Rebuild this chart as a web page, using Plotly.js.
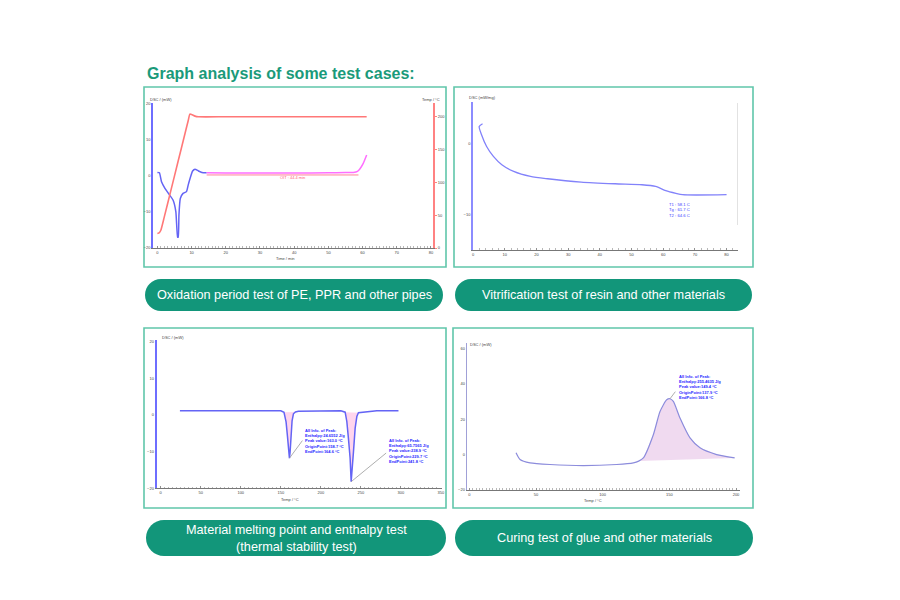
<!DOCTYPE html>
<html><head><meta charset="utf-8">
<script src="https://cdn.plot.ly/plotly-3.0.1.min.js"></script>
<style>html,body{margin:0;padding:0;background:#fff;}#chart{width:900px;height:600px;}</style>
</head><body><div id="chart"></div>
<script>
// ---------- Panel 1: oxidation induction time ----------
const oitTime = [0, 0.6, 1.2, 2.2, 3.6, 4.6, 5.4, 5.9, 6.1, 6.3, 6.7, 7.5, 8.5, 9.0, 9.7, 10.3, 11, 12, 13, 14.4];
const oitDsc  = [0.9, 0.8, -1.7, -3.5, -5.4, -6.8, -10, -17, -17, -10.9, -6.3, -4.9, -4.4, -2.6, -0.3, 1.3, 1.8, 1.3, 0.9, 0.8];
const oitHoldTime = [14.4, 20, 30, 40, 50, 55, 57.3, 58.5, 59.2, 60.2, 61.2];
const oitHoldDsc  = [0.8, 0.75, 0.72, 0.75, 0.8, 0.85, 0.9, 1.2, 1.85, 3.4, 5.7];
const tempTime = [0, 0.5, 1, 2, 4, 6, 8, 9, 9.5, 10, 11, 12, 20, 40, 61.2];
const tempVal  = [22, 23, 27, 47, 89, 131, 173, 194, 204, 203.5, 201, 200, 200, 200, 200];
const oitBaseTime = [14.4, 58.8];
const oitBaseDsc  = [0.2, 0.2];
const oitLabel = "OIT : 44.4 min";

// ---------- Panel 2: glass transition ----------
const tgTemp = [2.98, 1.92, 2.66, 4.26, 6.4, 9.06, 12.8, 18.1, 23.5, 34.1, 44.8, 53.3, 57.6, 60.8, 64, 66.1, 80];
const tgDsc  = [2.87, 2.49, 1.32, -0.34, -1.75, -2.93, -3.87, -4.58, -4.91, -5.38, -5.62, -5.76, -6.0, -6.6, -6.98, -7.17, -7.17];
const tgLabels = ["T1 : 58.1 C", "Tg : 61.7 C", "T2 : 64.6 C"];

// ---------- Panel 3: melting ----------
const meltTemp = [24, 60, 100, 140, 150, 154, 156.6, 158.3, 160, 160.8, 161.6, 162.9, 164.1, 165.8, 168.3, 172, 200, 225, 230.4, 232.5, 234.5, 236.6, 237.9, 239.1, 240.8, 242.9, 245, 247, 270, 297];
const meltDsc  = [1.1, 1.1, 1.1, 1.1, 1.1, 0.7, -1.9, -5.7, -10, -11.8, -10.2, -5.7, -1.6, 0.3, 0.8, 1.0, 1.1, 1.1, 0.74, -1.8, -6.4, -11.8, -18.2, -15.5, -10, -3.6, -0.45, 0.6, 1.1, 1.1];
const meltPeak1Text = ["All Info. of Peak:", "Enthalpy:24.6552 J/g", "Peak value:163.0 °C", "OriginPoint:158.7 °C", "EndPoint:164.6 °C"];
const meltPeak2Text = ["All Info. of Peak:", "Enthalpy:65.7565 J/g", "Peak value:238.9 °C", "OriginPoint:229.7 °C", "EndPoint:241.8 °C"];

// ---------- Panel 4: curing ----------
const cureTemp = [35, 38, 45.5, 60.5, 85.5, 110.5, 123, 127, 130.5, 138, 143, 148, 150.5, 153, 158, 165.5, 173, 185.5, 199];
const cureDsc  = [0.96, -2.8, -4.7, -5.6, -6.2, -5.6, -4.7, -3.7, -1.9, 11.2, 24.3, 30.9, 31.5, 30, 20.6, 9.4, 3.8, 0, -1.9];
const curePeakText = ["All Info. of Peak:", "Enthalpy:255.4635 J/g", "Peak value:149.4 °C", "OriginPoint:137.9 °C", "EndPoint:166.8 °C"];

// ---------- Texts ----------
const pageTitle = "Graph analysis of some test cases:";
const captions = ["Oxidation period test of PE, PPR and other pipes", "Vitrification test of resin and other materials",
  "Material melting point and enthalpy test<br>(thermal stability test)", "Curing test of glue and other materials"];

// helpers
const P = px => px / 900, Q = py => 1 - py / 600;
const TEAL = 'rgb(18,150,122)', BORDER = 'rgb(96,198,170)';
const BLUE = 'rgb(100,100,245)', RED = 'rgb(255,120,120)', MAG = 'rgb(255,110,255)';
const SANS = 'Liberation Sans, Arial, sans-serif';
const tf = {family: SANS, size: 4, color: '#444'};

function pick(xs, ys, lo, hi) {
  const x = [], y = [];
  xs.forEach((v, i) => { if (v >= lo && v <= hi) { x.push(v); y.push(ys[i]); } });
  return {x, y};
}
const pk1 = pick(meltTemp, meltDsc, 154, 168.3);
const pk2 = pick(meltTemp, meltDsc, 230.4, 247);
const cpk = pick(cureTemp, cureDsc, 127, 199);
const meltMin1 = {x: 160.8, y: Math.min(...pk1.y)};
const meltMin2 = {x: 237.9, y: Math.min(...pk2.y)};
const cureMax = {x: 150.5, y: Math.max(...cureDsc)};

const traces = [
  {x: tempTime, y: tempVal, xaxis: 'x', yaxis: 'y5', mode: 'lines', line: {color: RED, width: 1.6, shape: 'spline', smoothing: 0.5}},
  {x: oitTime, y: oitDsc, xaxis: 'x', yaxis: 'y', mode: 'lines', line: {color: BLUE, width: 1.5, shape: 'spline', smoothing: 0.4}},
  {x: oitHoldTime, y: oitHoldDsc, xaxis: 'x', yaxis: 'y', mode: 'lines', line: {color: MAG, width: 1.5, shape: 'spline', smoothing: 0.6}},
  {x: oitBaseTime, y: oitBaseDsc, xaxis: 'x', yaxis: 'y', mode: 'lines', line: {color: 'rgb(255,130,150)', width: 1}},

  {x: tgTemp, y: tgDsc, xaxis: 'x2', yaxis: 'y2', mode: 'lines', line: {color: 'rgb(130,130,250)', width: 1.3, shape: 'spline', smoothing: 0.7}},

  {x: pk1.x, y: pk1.y, xaxis: 'x3', yaxis: 'y3', mode: 'lines', fill: 'toself', fillcolor: 'rgba(255,185,225,0.6)', line: {width: 0}},
  {x: pk2.x, y: pk2.y, xaxis: 'x3', yaxis: 'y3', mode: 'lines', fill: 'toself', fillcolor: 'rgba(255,185,225,0.6)', line: {width: 0}},
  {x: meltTemp, y: meltDsc, xaxis: 'x3', yaxis: 'y3', mode: 'lines', line: {color: BLUE, width: 1.5}},

  {x: cpk.x, y: cpk.y, xaxis: 'x4', yaxis: 'y4', mode: 'lines', fill: 'toself', fillcolor: 'rgba(235,205,235,0.75)', line: {width: 0}},
  {x: cureTemp, y: cureDsc, xaxis: 'x4', yaxis: 'y4', mode: 'lines', line: {color: 'rgb(140,140,220)', width: 1.2, shape: 'spline', smoothing: 0.6}}
].map(t => Object.assign({showlegend: false, hoverinfo: 'skip'}, t));

function xax(d, r, dt, minor, anchor) {
  return {domain: d, range: r, anchor: anchor, showline: true, linecolor: '#777', linewidth: 1, ticks: 'inside', ticklen: 2.5,
    tickcolor: '#777', tickwidth: 0.8, dtick: dt, tick0: 0, minor: {dtick: minor, ticks: 'inside', ticklen: 1.6, tickcolor: '#888', tickwidth: 0.6},
    showgrid: false, zeroline: false, tickfont: tf, fixedrange: true};
}
function yax(d, r, dt, color, w, anchor) {
  return {domain: d, range: r, anchor: anchor, showline: true, linecolor: color, linewidth: w, ticks: '', dtick: dt, tick0: 0,
    showgrid: false, zeroline: false, tickfont: tf, fixedrange: true};
}

function pill(x0, y0, x1, y1) {
  const r = (y1 - y0) / 2, k = 0.5523 * r;
  const pt = (x, y) => P(x) + ',' + Q(y);
  return 'M' + pt(x0 + r, y0) + ' L' + pt(x1 - r, y0) +
    ' C' + pt(x1 - r + k, y0) + ' ' + pt(x1, y0 + r - k) + ' ' + pt(x1, y0 + r) +
    ' C' + pt(x1, y0 + r + k) + ' ' + pt(x1 - r + k, y1) + ' ' + pt(x1 - r, y1) +
    ' L' + pt(x0 + r, y1) +
    ' C' + pt(x0 + r - k, y1) + ' ' + pt(x0, y0 + r + k) + ' ' + pt(x0, y0 + r) +
    ' C' + pt(x0, y0 + r - k) + ' ' + pt(x0 + r - k, y0) + ' ' + pt(x0 + r, y0) + ' Z';
}
const boxes = [[144, 87, 446, 267], [454, 87, 753, 267], [144, 328, 446, 508], [453, 328, 753, 508]];
const pills = [[145, 279, 443, 311], [455, 279, 752, 311], [146, 520, 446, 556], [455, 520, 753, 556]];

const shapes = [];
boxes.forEach(b => shapes.push({type: 'rect', xref: 'paper', yref: 'paper', x0: P(b[0]), x1: P(b[2]), y0: Q(b[3]), y1: Q(b[1]),
  line: {color: BORDER, width: 1.6}, fillcolor: 'rgba(0,0,0,0)', layer: 'below'}));
pills.forEach(b => shapes.push({type: 'path', xref: 'paper', yref: 'paper', path: pill(b[0], b[1], b[2], b[3]),
  line: {width: 0}, fillcolor: TEAL}));
shapes.push({type: 'line', xref: 'paper', yref: 'paper', x0: P(737.5), x1: P(737.5), y0: Q(225), y1: Q(103), line: {color: '#e2e2e2', width: 1}});
shapes.push({type: 'line', xref: 'x3', yref: 'y3', x0: meltMin1.x, y0: meltMin1.y, x1: 177, y1: -7, line: {color: '#999', width: 0.8}});
shapes.push({type: 'line', xref: 'x3', yref: 'y3', x0: meltMin2.x, y0: meltMin2.y, x1: 281.6, y1: -10.4, line: {color: '#999', width: 0.8}});
shapes.push({type: 'line', xref: 'x4', yref: 'y4', x0: cureMax.x, y0: cureMax.y, x1: 154.5, y1: 35.5, line: {color: '#999', width: 0.8}});

const small = {family: SANS, size: 4, color: '#444'};
const infoFont = {family: SANS, size: 4, color: 'rgb(40,40,255)', weight: 'bold'};
const capFont = {family: SANS, size: 12.7, color: '#fff'};
const ann = [
  {text: '<b>' + pageTitle + '</b>', x: P(145), y: Q(74), xanchor: 'left', font: {family: SANS, size: 16, color: 'rgb(26,154,122)'}},
  {text: 'DSC / (mW)', x: P(147.5), y: Q(99), xanchor: 'left', font: small},
  {text: 'Temp / °C', x: P(442), y: Q(99), xanchor: 'right', font: small},
  {text: 'Time / min', x: P(285), y: Q(258.5), font: small},
  {text: 'DSC (mW/mg)', x: P(466.5), y: Q(97.7), xanchor: 'left', font: small},
  {text: 'DSC / (mW)', x: P(159.5), y: Q(337), xanchor: 'left', font: small},
  {text: 'Temp / °C', x: P(290), y: Q(499), font: small},
  {text: 'DSC / (mW)', x: P(467.5), y: Q(344), xanchor: 'left', font: small},
  {text: 'Temp / °C', x: P(593), y: Q(500), font: small},
  {text: oitLabel, xref: 'x', yref: 'y', x: 39.5, y: -0.6, font: {family: SANS, size: 4, color: 'rgb(255,90,120)'}},
  {text: tgLabels.join('<br>'), xref: 'x2', yref: 'y2', x: 61.2, y: -7.9, xanchor: 'left', yanchor: 'top', align: 'left', font: {family: SANS, size: 4.2, color: 'rgb(60,60,255)'}},
  {text: meltPeak1Text.join('<br>'), xref: 'x3', yref: 'y3', x: 177.5, y: -3.0, xanchor: 'left', yanchor: 'top', align: 'left', font: infoFont},
  {text: meltPeak2Text.join('<br>'), xref: 'x3', yref: 'y3', x: 282.5, y: -5.8, xanchor: 'left', yanchor: 'top', align: 'left', font: infoFont},
  {text: curePeakText.join('<br>'), xref: 'x4', yref: 'y4', x: 155.6, y: 46.5, xanchor: 'left', yanchor: 'top', align: 'left', font: infoFont},
  {text: captions[0], x: P(294), y: Q(294.5), font: capFont},
  {text: captions[1], x: P(603.5), y: Q(294.5), font: capFont},
  {text: captions[2], x: P(296), y: Q(538), font: capFont},
  {text: captions[3], x: P(604), y: Q(538), font: capFont}
].map(a => Object.assign({xref: 'paper', yref: 'paper', showarrow: false, xanchor: 'center', yanchor: 'middle'}, a));

const layout = {
  width: 900, height: 600, margin: {l: 0, r: 0, t: 0, b: 0}, paper_bgcolor: '#fff', plot_bgcolor: 'rgba(0,0,0,0)', showlegend: false,
  xaxis: xax([P(153.3), P(433)], [-1.2, 80.6], 10, 1, 'y'),
  yaxis: yax([Q(248), Q(103)], [-20, 20.1], 10, 'rgb(110,110,255)', 2, 'x'),
  yaxis5: Object.assign(yax(null, [0, 221], 50, 'rgb(255,130,130)', 2, 'x'), {overlaying: 'y', side: 'right', ticks: 'outside', ticklen: 2, tickcolor: 'rgb(255,130,130)'}),
  xaxis2: xax([P(472.7), P(738.3)], [-0.13, 83.7], 10, 2, 'y2'),
  yaxis2: yax([Q(250), Q(101.7)], [-15, 6], 10, 'rgb(140,140,255)', 1.5, 'x2'),
  xaxis3: xax([P(156.7), P(441.7)], [-5, 351], 50, 5, 'y3'),
  yaxis3: yax([Q(488.3), Q(340)], [-20, 20.4], 10, 'rgb(110,110,255)', 2, 'x3'),
  xaxis4: xax([P(466.7), P(740)], [-2, 203], 50, 2.5, 'y4'),
  yaxis4: yax([Q(490), Q(343.3)], [-20, 62.8], 20, 'rgb(160,160,215)', 1, 'x4'),
  shapes: shapes, annotations: ann
};
delete layout.yaxis5.domain;
Plotly.newPlot('chart', traces, layout, {staticPlot: true, displayModeBar: false});
</script></body></html>
